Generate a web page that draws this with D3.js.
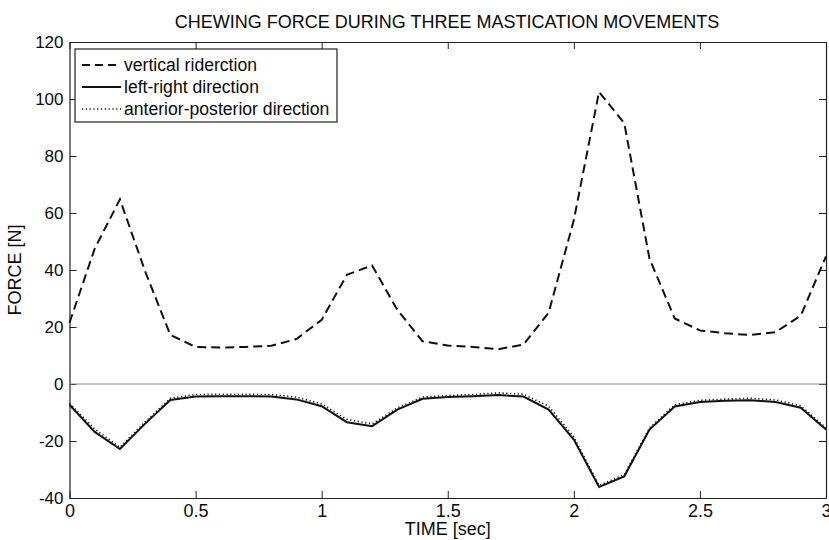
<!DOCTYPE html>
<html>
<head>
<meta charset="utf-8">
<script src="https://cdn.jsdelivr.net/npm/d3@7"></script>
<style>
  body { margin: 0; background: #fff; }
  svg text { font-family: "Liberation Sans", Arial, sans-serif; fill: #0a0a0a; }
  .axis path, .axis line { stroke: #222; }
</style>
</head>
<body>
<svg id="chart"></svg>
<script>
// time samples (sec)
const time = [0, 0.1, 0.2, 0.3, 0.4, 0.5, 0.6, 0.7, 0.8, 0.9, 1.0,
              1.1, 1.2, 1.3, 1.4, 1.5, 1.6, 1.7, 1.8, 1.9, 2.0,
              2.1, 2.2, 2.3, 2.4, 2.5, 2.6, 2.7, 2.8, 2.9, 3.0];

// force values [N]
const vertical = [21.5, 47.5, 64.8, 39.5, 17.2, 13, 12.8, 13, 13.4, 15.8, 22.5,
                  38.3, 41.6, 26, 15, 13.5, 13, 12.2, 13.8, 25, 57.5,
                  102.5, 91.5, 44, 23, 18.8, 17.8, 17.2, 18.2, 24, 44.8];
const leftRight = [-7.3, -16.8, -22.8, -13.9, -5.6, -4.4, -4.3, -4.3, -4.4, -5.4, -7.8,
                   -13.4, -14.8, -9, -5.2, -4.6, -4.3, -3.9, -4.4, -9, -19.5,
                   -36.1, -32.4, -16, -7.9, -6.3, -5.9, -5.7, -6.3, -8.3, -16];
const antPost = [-6.8, -15.8, -22.2, -13.3, -5.0, -3.7, -3.6, -3.6, -3.7, -4.6, -7.0,
                 -12.4, -14.0, -8.4, -4.6, -4.0, -3.7, -3.1, -3.6, -7.8, -18.6,
                 -35.6, -31.8, -15.4, -7.3, -5.7, -5.3, -5.0, -5.6, -7.6, -15.4];

const xTicks = [0, 0.5, 1, 1.5, 2, 2.5, 3];
const yTicks = [-40, -20, 0, 20, 40, 60, 80, 100, 120];
const seriesNames = ["vertical riderction", "left-right direction", "anterior-posterior direction"];

const titleText = "CHEWING FORCE DURING THREE MASTICATION MOVEMENTS";
const xLabel = "TIME [sec]";
const yLabel = "FORCE [N]";

const W = 829, H = 540;
const margin = {top: 42, right: 3, bottom: 42, left: 69.5};
const width = W - margin.left - margin.right;
const height = H - margin.top - margin.bottom;

const svg = d3.select("#chart").attr("width", W).attr("height", H);
const chart = svg.append("g").attr("transform", `translate(${margin.left},${margin.top})`);

const x = d3.scaleLinear().domain([0, 3]).range([0, width]);
const y = d3.scaleLinear().domain([-40, 120]).range([height, 0]);

const tickLen = 7;
const fmt = d => String(d);

// bottom + top axes (inward ticks)
chart.append("g").attr("class", "axis")
  .attr("transform", `translate(0,${height})`)
  .call(d3.axisBottom(x).tickValues(xTicks).tickFormat(fmt).tickSizeInner(-tickLen).tickSizeOuter(0).tickPadding(6))
  .call(g => g.selectAll("text").attr("font-size", 18));
chart.append("g").attr("class", "axis")
  .call(d3.axisTop(x).tickValues(xTicks).tickFormat("").tickSizeInner(-tickLen).tickSizeOuter(0));

// left + right axes
chart.append("g").attr("class", "axis")
  .call(d3.axisLeft(y).tickValues(yTicks).tickFormat(fmt).tickSizeInner(-tickLen).tickSizeOuter(0).tickPadding(6))
  .call(g => g.selectAll("text").attr("font-size", 17));
chart.append("g").attr("class", "axis")
  .attr("transform", `translate(${width},0)`)
  .call(d3.axisRight(y).tickValues(yTicks).tickFormat("").tickSizeInner(-tickLen).tickSizeOuter(0));

chart.selectAll(".axis path").attr("stroke-width", 1.2);

// zero line
chart.append("line")
  .attr("x1", 0).attr("x2", width)
  .attr("y1", y(0)).attr("y2", y(0))
  .attr("stroke", "#888").attr("stroke-width", 1);

const line = d3.line().x((d, i) => x(time[i])).y(d => y(d));

chart.append("path").datum(antPost)
  .attr("d", line).attr("fill", "none")
  .attr("stroke", "#111").attr("stroke-width", 1.6)
  .attr("stroke-dasharray", "1.2,2.6");

chart.append("path").datum(leftRight)
  .attr("d", line).attr("fill", "none")
  .attr("stroke", "#111").attr("stroke-width", 2);

chart.append("path").datum(vertical)
  .attr("d", line).attr("fill", "none")
  .attr("stroke", "#111").attr("stroke-width", 2)
  .attr("stroke-dasharray", "9,5");

// title and labels
svg.append("text")
  .attr("x", 447).attr("y", 28)
  .attr("text-anchor", "middle")
  .attr("font-size", 18)
  .text(titleText);

svg.append("text")
  .attr("x", margin.left + width / 2).attr("y", 535)
  .attr("text-anchor", "middle")
  .attr("font-size", 18)
  .text(xLabel);

svg.append("text")
  .attr("transform", `translate(21,${margin.top + height / 2}) rotate(-90)`)
  .attr("text-anchor", "middle")
  .attr("font-size", 18)
  .text(yLabel);

// legend
const legend = svg.append("g").attr("transform", "translate(75,49)");
legend.append("rect")
  .attr("width", 262).attr("height", 73)
  .attr("fill", "#fff").attr("stroke", "#222").attr("stroke-width", 1.2);

const legendStyles = [
  {dash: "8,5", w: 2},
  {dash: null, w: 2},
  {dash: "1.2,2.6", w: 1.6}
];
seriesNames.forEach((name, i) => {
  const row = legend.append("g").attr("transform", `translate(0,${16 + i * 22})`);
  row.append("line")
    .attr("x1", 7).attr("x2", 46).attr("y1", 0).attr("y2", 0)
    .attr("stroke", "#111").attr("stroke-width", legendStyles[i].w)
    .attr("stroke-dasharray", legendStyles[i].dash);
  row.append("text")
    .attr("x", 49).attr("y", 6)
    .attr("font-size", 17.6)
    .text(name);
});
</script>
</body>
</html>
